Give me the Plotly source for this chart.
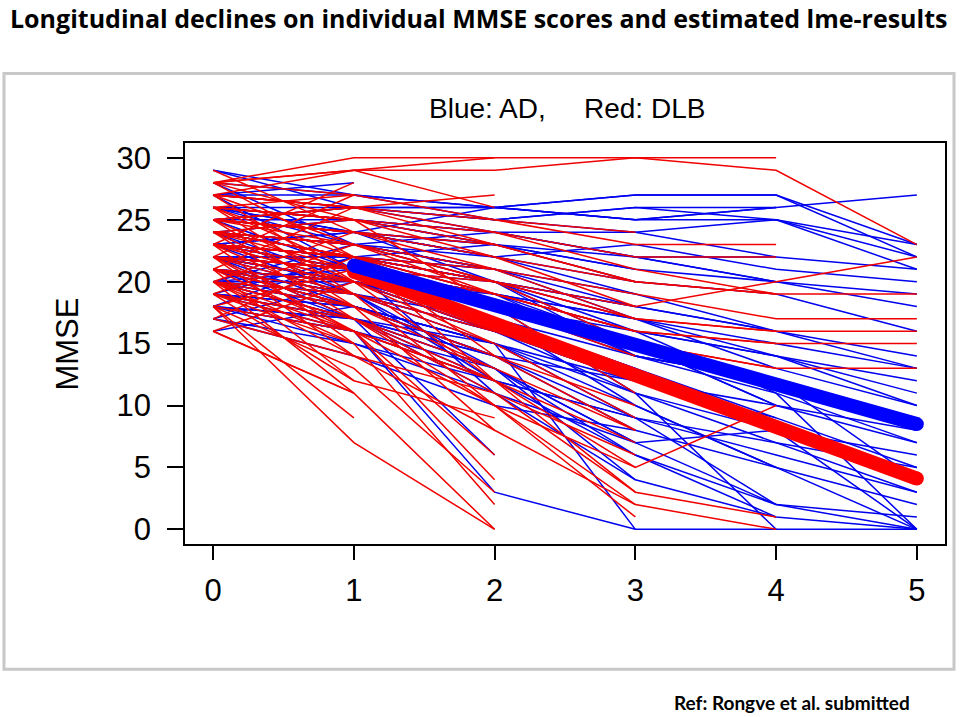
import plotly.graph_objects as go

years = [0, 1, 2, 3, 4, 5]

# Individual MMSE trajectories (AD = blue), one list per patient, from year 0
ad_trajectories = [
    [26, 26, 25, 26, 26, 27], [27, 27, 26, 27, 27, 23], [25, 26, 26, 25, 25, 23],
    [24, 25, 24, 24, 25, 22], [24, 23, 24, 22, 22, 21], [23, 24, 22, 23, 21, 20],
    [22, 22, 23, 21, 20, 19], [25, 24, 23, 22, 20, 18], [23, 22, 21, 19, 16, 14],
    [22, 21, 20, 18, 16, 13], [21, 20, 19, 16, 14, 11], [24, 23, 21, 17, 13, 10],
    [21, 20, 18, 15, 10, 7], [20, 19, 17, 13, 8, 6], [22, 20, 16, 12, 9, 5],
    [19, 18, 15, 9, 6, 3], [20, 18, 14, 8, 5, 2], [21, 19, 13, 7, 2, 1],
    [18, 16, 12, 6, 2, 0], [23, 21, 17, 10, 5, 0], [19, 17, 13, 4, 1, 0],
    [22, 18, 15, 0, 0, 0], [24, 22, 20, 16, 11, 0], [17, 15, 11, 7, 8, 0],
    [26, 25, 23, 20, 19, 16], [20, 21, 19, 17, 15, 13],
    [23, 19, 16, 13, 9], [21, 17, 14, 12, 10, 8], [19, 22, 19, 14, 12, 9],
    [25, 21, 18, 14, 11, 7], [26, 23, 20, 17, 14, 12], [24, 20, 17, 14, 12, 4],
    [22, 19, 15, 11, 7, 3], [20, 20, 18, 16, 14, 10], [18, 15, 12, 9, 7, 5],
    [23, 24, 26, 27, 27, 22], [25, 26, 25, 26, 25, 21],
    [27, 26, 26, 25, 26], [28, 27, 25, 24, 22], [25, 25, 24, 22, 20],
    [23, 22, 21, 18, 16], [22, 21, 19, 15, 10], [21, 19, 16, 11, 8],
    [20, 18, 15, 10, 5], [19, 17, 12, 9, 2], [18, 16, 13, 6, 1],
    [24, 22, 18, 11, 0], [26, 24, 20, 14, 12], [29, 27, 26, 25, 26],
    [24, 23, 22, 20], [22, 20, 17, 13], [21, 18, 14, 9], [20, 17, 13, 7],
    [18, 17, 11, 4], [19, 16, 3, 0], [23, 21, 19, 17], [25, 24, 22, 19],
    [26, 25, 23, 21], [22, 22, 20, 15], [17, 14, 10, 8], [21, 20, 16, 12],
    [18, 22, 20, 18], [16, 18, 15, 12],
    [23, 21, 18], [20, 17, 6], [24, 23, 21], [22, 20, 16], [19, 18, 14],
    [25, 24, 22], [21, 19, 12], [18, 17, 15], [23, 22, 20], [26, 24, 23],
    [22, 21, 11], [22, 17, 14], [20, 23, 21], [17, 20, 18], [29, 26, 24],
    [24, 23], [21, 18], [23, 22], [20, 19], [27, 28], [22, 20],
    [28, 23], [27, 21], [24, 19],
]

# Individual MMSE trajectories (DLB = red)
dlb_trajectories = [
    [28, 29, 29, 30, 29, 23], [24, 23, 20, 18, 20, 22], [25, 24, 22, 20, 19, 19],
    [23, 22, 21, 19, 17, 17], [22, 21, 20, 17, 16, 16], [24, 22, 19, 16, 15, 15],
    [21, 20, 18, 15, 13, 13],
    [28, 30, 30, 30, 30], [25, 26, 25, 23, 23], [26, 25, 24, 21, 19],
    [23, 22, 20, 17, 16], [24, 22, 19, 16, 15], [22, 21, 18, 15, 13],
    [20, 17, 12, 5, 10], [19, 16, 12, 3, 1], [20, 16, 10, 2, 0],
    [27, 26, 24, 22, 22], [25, 24, 23, 20, 19],
    [24, 23, 21, 17], [23, 21, 18, 14], [22, 20, 16, 12], [21, 18, 14, 10],
    [20, 17, 13, 8], [26, 25, 22, 18], [27, 26, 23, 20], [25, 23, 20, 15],
    [18, 16, 12, 7], [19, 17, 10, 1], [22, 21, 19, 16], [28, 27, 25, 24],
    [24, 22, 18, 11], [23, 20, 15, 9], [17, 14, 11, 6],
    [24, 19, 10, 5], [23, 18, 8, 2], [22, 17, 11, 3], [26, 22, 14, 8],
    [16, 11, 0], [18, 7, 0], [20, 15, 2], [22, 16, 4], [23, 22, 20],
    [25, 24, 21], [24, 21, 17], [26, 25, 23], [22, 19, 15], [21, 18, 13],
    [20, 19, 16], [27, 29, 30], [23, 22, 12], [25, 26, 27], [28, 29, 26],
    [19, 12, 9], [26, 21, 17], [27, 23, 19], [28, 25, 18], [25, 20, 12],
    [21, 16, 6], [20, 14, 8], [18, 13, 3],
    [18, 9], [16, 11], [24, 23], [22, 21], [20, 18], [26, 27], [23, 20],
    [19, 15], [25, 24], [21, 19], [27, 26], [24, 25],
    [29, 24], [28, 22], [27, 20], [26, 19], [25, 18], [24, 17], [23, 15],
    [22, 14], [21, 12], [20, 11], [18, 21], [17, 22], [16, 20], [21, 26],
    [20, 24], [22, 27], [19, 23], [23, 28],
]

# Estimated lme results
fit_years = [1, 5]
ad_fit = [21.3, 8.5]
dlb_fit = [20.8, 4.1]

y_ticks = [0, 5, 10, 15, 20, 25, 30]
x_ticks = [0, 1, 2, 3, 4, 5]

BLUE = "#0000f0"
RED = "#f00000"


def flatten(trajs):
    xs, ys = [], []
    for t in trajs:
        xs += years[:len(t)] + [None]
        ys += list(t) + [None]
    return xs, ys


fig = go.Figure()
bx, by = flatten(ad_trajectories)
rx, ry = flatten(dlb_trajectories)
fig.add_trace(go.Scatter(x=bx, y=by, mode="lines", line=dict(color=BLUE, width=1.5),
                         connectgaps=False, hoverinfo="skip", showlegend=False))
fig.add_trace(go.Scatter(x=rx, y=ry, mode="lines", line=dict(color=RED, width=1.5),
                         connectgaps=False, hoverinfo="skip", showlegend=False))
fig.add_trace(go.Scatter(x=fit_years, y=dlb_fit, mode="lines+markers",
                         line=dict(color="#ff0000", width=14),
                         marker=dict(color="#ff0000", size=14), showlegend=False))
fig.add_trace(go.Scatter(x=fit_years, y=ad_fit, mode="lines+markers",
                         line=dict(color="#0000ff", width=14),
                         marker=dict(color="#0000ff", size=14), showlegend=False))

W, H = 960, 717


def px(x):
    return x / W


def py(y):
    return 1 - y / H


left, right, top, bottom = 185, 945, 142, 546

fig.update_layout(
    width=W, height=H,
    margin=dict(l=0, r=0, t=0, b=0),
    paper_bgcolor="white", plot_bgcolor="white",
    font=dict(family="Liberation Sans, Arial, sans-serif", color="black"),
    xaxis=dict(domain=[px(left), px(right)], range=[-0.2, 5.2],
               tickvals=x_ticks, ticktext=[str(v) for v in x_ticks],
               showgrid=False, zeroline=False, showline=True, mirror=True,
               linecolor="black", linewidth=1.5, ticks="outside", ticklen=14,
               tickwidth=1.5, tickcolor="black", tickfont=dict(size=31),
               ticklabelstandoff=4),
    yaxis=dict(domain=[py(bottom), py(top)], range=[-1.2, 31.2],
               tickvals=y_ticks, ticktext=[str(v) for v in y_ticks],
               showgrid=False, zeroline=False, showline=True, mirror=True,
               linecolor="black", linewidth=1.5, ticks="outside", ticklen=16,
               tickwidth=1.5, tickcolor="black", tickfont=dict(size=31),
               ticklabelstandoff=10),
    shapes=[dict(type="rect", xref="paper", yref="paper",
                 x0=px(4), x1=px(954), y0=py(672), y1=py(72),
                 line=dict(color="#c8c8c8", width=3), layer="below")],
    annotations=[
        dict(text="<b>Longitudinal declines on individual MMSE scores and estimated lme-results</b>",
             x=px(8), y=py(16), xref="paper", yref="paper", xanchor="left", yanchor="middle",
             showarrow=False, font=dict(family="Open Sans, sans-serif", size=25)),
        dict(text="Blue: AD,", x=px(487), y=py(107), xref="paper", yref="paper",
             xanchor="center", yanchor="middle", showarrow=False, font=dict(size=28)),
        dict(text="Red: DLB", x=px(644), y=py(107), xref="paper", yref="paper",
             xanchor="center", yanchor="middle", showarrow=False, font=dict(size=28)),
        dict(text="MMSE", x=px(68), y=py(345), xref="paper", yref="paper",
             xanchor="center", yanchor="middle", textangle=-90, showarrow=False,
             font=dict(size=31)),
        dict(text="<b>Ref: Rongve et al. submitted</b>", x=px(912), y=py(705),
             xref="paper", yref="paper", xanchor="right", yanchor="middle",
             showarrow=False, font=dict(family="Lato, Carlito, sans-serif", size=19)),
    ],
)

fig.write_html("out.html", config={"displayModeBar": False},
               post_script="document.body.style.margin='0';document.body.style.overflow='hidden';")
